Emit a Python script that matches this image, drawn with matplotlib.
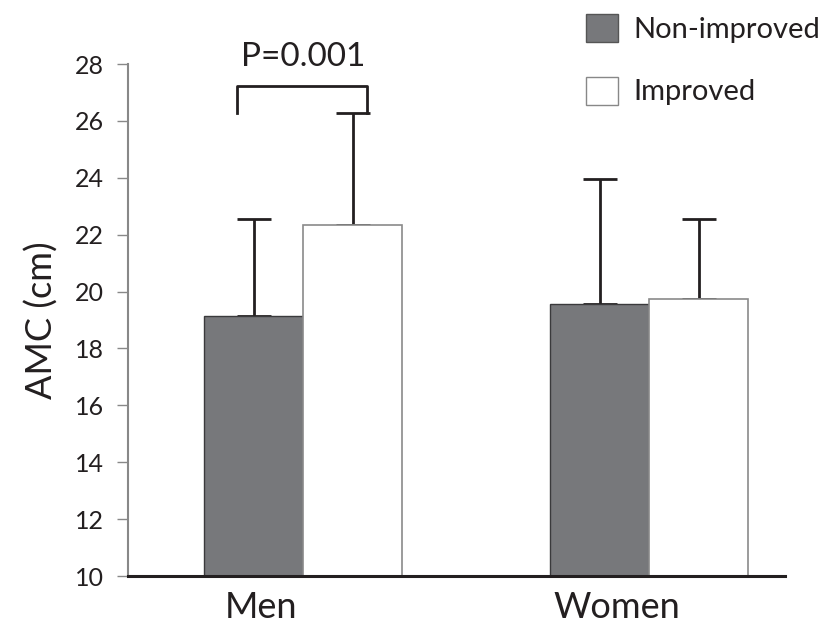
import numpy as np
import matplotlib
matplotlib.use('Agg')
import matplotlib.pyplot as plt
import matplotlib.transforms as mtransforms
from matplotlib.patches import Patch

plt.rcParams['font.family'] = ['Lato', 'DejaVu Sans']

groups = ['Men', 'Women']
series = ['Non-improved', 'Improved']
means_non = [19.14, 19.56]
sd_non = [3.41, 4.40]
means_imp = [22.34, 19.74]
sd_imp = [3.94, 2.81]
p_text = 'P=0.001'

fig = plt.figure(figsize=(8.24, 6.3), dpi=100)
ax = fig.add_axes([0.1553, 0.0857, 0.7974, 0.8127])

x = np.arange(len(groups))
w = 0.286

ax.bar(x - w/2, means_non, w, bottom=0, color='#77787b', edgecolor='#3a3a3c', linewidth=1.0, zorder=2)
ax.bar(x + w/2, means_imp, w, bottom=0, color='white', edgecolor='#8a8a8a', linewidth=1.2, zorder=2)

ax.errorbar(x - w/2, means_non, yerr=[np.zeros(2), sd_non], fmt='none', ecolor='#231f20',
            elinewidth=2.0, capsize=12, capthick=2.0, zorder=1)
ax.errorbar(x + w/2, means_imp, yerr=[np.zeros(2), sd_imp], fmt='none', ecolor='#231f20',
            elinewidth=2.0, capsize=12, capthick=2.0, zorder=1)

# significance bracket for men
top = means_imp[0] + sd_imp[0]
ax.plot([-0.19, -0.19, 0.185, 0.185], [top, 27.23, 27.23, top], color='#231f20', lw=2.0, clip_on=False)
ax.text(0.0, 28.25, p_text, ha='center', va='center', fontsize=24, color='#231f20', clip_on=False)

ax.set_xlim(-0.506, 1.393)
ax.set_ylim(10, 28)
ax.set_yticks(np.arange(10, 29, 2))
ax.set_xticks(x)
ax.set_xticklabels(groups, fontsize=26, color='#231f20')
ax.tick_params(axis='y', labelsize=18, colors='#231f20', length=8, width=1, color='#888888', pad=9)
ax.tick_params(axis='x', length=0, pad=11)
ax.set_ylabel('AMC (cm)', fontsize=26, color='#231f20', labelpad=12)

# category labels sit a bit left of the group centre in the original
for lab, dx in zip(ax.get_xticklabels(), [-30, -23]):
    lab.set_transform(lab.get_transform() + mtransforms.ScaledTranslation(dx / 72, 0, fig.dpi_scale_trans))

ax.spines['top'].set_visible(False)
ax.spines['right'].set_visible(False)
ax.spines['left'].set_color('#888888')
ax.spines['left'].set_linewidth(1.5)
ax.spines['bottom'].set_color('#231f20')
ax.spines['bottom'].set_linewidth(2.2)
ax.spines['bottom'].set_zorder(3)

handles = [Patch(facecolor='#77787b', edgecolor='#555555'),
           Patch(facecolor='white', edgecolor='#888888')]
leg = fig.legend(handles, series, loc='upper left', bbox_to_anchor=(0.686, 1.01),
                 frameon=False, fontsize=21, handlelength=1.1, handleheight=1.1,
                 handletextpad=0.55, labelspacing=1.15, borderaxespad=0.3)
for t in leg.get_texts():
    t.set_color('#231f20')

fig.savefig('out.png', dpi=100)
